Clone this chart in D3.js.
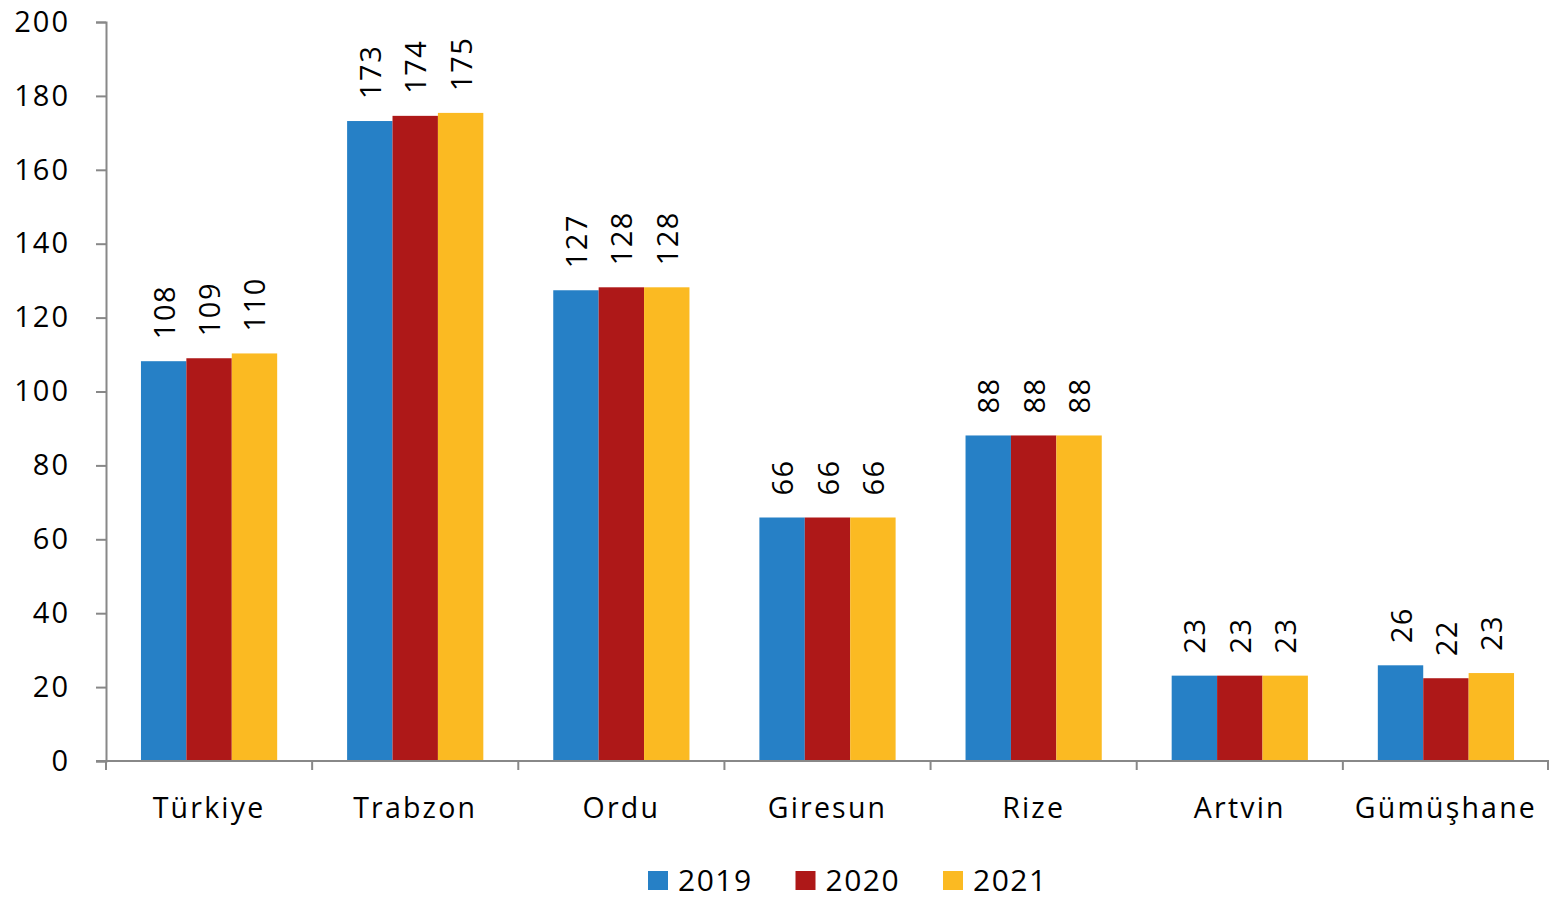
<!DOCTYPE html>
<html>
<head>
<meta charset="utf-8">
<script src="https://cdn.jsdelivr.net/npm/d3@7"></script>
<style>
  body { margin: 0; background: #fff; }
  text { font-family: "Open Sans", "Noto Sans", sans-serif; fill: #000; }
</style>
</head>
<body>
<div id="chart"></div>
<script>
const categories = ["Türkiye", "Trabzon", "Ordu", "Giresun", "Rize", "Artvin", "Gümüşhane"];
const years = ["2019", "2020", "2021"];
const values2019 = [108.2, 173.2, 127.4, 65.9, 88.1, 23.1, 25.9];
const values2020 = [109.0, 174.6, 128.2, 65.9, 88.1, 23.1, 22.4];
const values2021 = [110.3, 175.4, 128.2, 65.9, 88.1, 23.1, 23.8];
const labels2019 = ["108", "173", "127", "66", "88", "23", "26"];
const labels2020 = ["109", "174", "128", "66", "88", "23", "22"];
const labels2021 = ["110", "175", "128", "66", "88", "23", "23"];
const yTicks = [0, 20, 40, 60, 80, 100, 120, 140, 160, 180, 200];
const colors = ["#2680c6", "#ae1818", "#fbba22"];

const width = 1549, height = 900;
const plotLeft = 106, plotRight = 1549, plotTop = 22, plotBottom = 761;

const seriesValues = [values2019, values2020, values2021];
const seriesLabels = [labels2019, labels2020, labels2021];

const svg = d3.select("#chart").append("svg")
    .attr("width", width)
    .attr("height", height);

const x = d3.scaleBand()
    .domain(categories)
    .range([plotLeft, plotRight])
    .padding(0);

const x1 = d3.scaleBand()
    .domain(years)
    .range([0, x.bandwidth()])
    .paddingInner(0)
    .paddingOuter(0.77);

const y = d3.scaleLinear()
    .domain([0, 200])
    .range([plotBottom, plotTop]);

// y axis
const yAxis = svg.append("g")
    .attr("transform", `translate(${plotLeft},0)`)
    .call(d3.axisLeft(y).tickValues(yTicks).tickSize(10).tickPadding(26));
yAxis.select(".domain").attr("stroke", "#888").attr("stroke-width", 2);
yAxis.selectAll(".tick line").attr("stroke", "#888").attr("stroke-width", 2);
yAxis.selectAll("text")
    .style("font-size", "29px")
    .style("letter-spacing", "2px")
    .attr("fill", "#000");

// bars
const groups = svg.append("g")
    .selectAll("g")
    .data(categories)
    .join("g")
    .attr("transform", d => `translate(${x(d)},0)`);

const cells = groups.selectAll("g.bar")
    .data((c, i) => years.map((yr, j) => ({ yr, j, v: seriesValues[j][i], lab: seriesLabels[j][i] })))
    .join("g")
    .attr("class", "bar");

cells.append("rect")
    .attr("x", d => x1(d.yr))
    .attr("y", d => y(d.v))
    .attr("width", x1.bandwidth())
    .attr("height", d => plotBottom - y(d.v))
    .attr("fill", d => colors[d.j]);

cells.append("text")
    .attr("transform", d => `translate(${x1(d.yr) + x1.bandwidth() / 2 + 11},${y(d.v) - 22}) rotate(-90)`)
    .attr("text-anchor", "start")
    .style("font-size", "29px")
    .style("letter-spacing", "1.5px")
    .text(d => d.lab);

// x axis
const xAxis = svg.append("g")
    .attr("transform", `translate(0,${plotBottom})`);
xAxis.append("line")
    .attr("x1", plotLeft - 10).attr("x2", plotRight)
    .attr("stroke", "#888").attr("stroke-width", 2);
xAxis.selectAll("line.tick")
    .data(categories.concat(["end"]))
    .join("line")
    .attr("class", "tick")
    .attr("x1", (d, i) => i < categories.length ? x(d) : plotRight - 1)
    .attr("x2", (d, i) => i < categories.length ? x(d) : plotRight - 1)
    .attr("y1", 0).attr("y2", 9)
    .attr("stroke", "#888").attr("stroke-width", 2);
xAxis.selectAll("text")
    .data(categories)
    .join("text")
    .attr("x", d => x(d) + x.bandwidth() / 2)
    .attr("y", 57)
    .attr("text-anchor", "middle")
    .style("font-size", "28.5px")
    .style("letter-spacing", "2.2px")
    .text(d => d);

// legend
const legend = svg.append("g")
    .attr("transform", "translate(648,871)");
const items = legend.selectAll("g")
    .data(years)
    .join("g")
    .attr("transform", (d, i) => `translate(${i * 147.5},0)`);
items.append("rect")
    .attr("width", 20).attr("height", 19)
    .attr("fill", (d, i) => colors[i]);
items.append("text")
    .attr("x", 30).attr("y", 20)
    .style("font-size", "30px")
    .style("letter-spacing", "1.5px")
    .text(d => d);
</script>
</body>
</html>
